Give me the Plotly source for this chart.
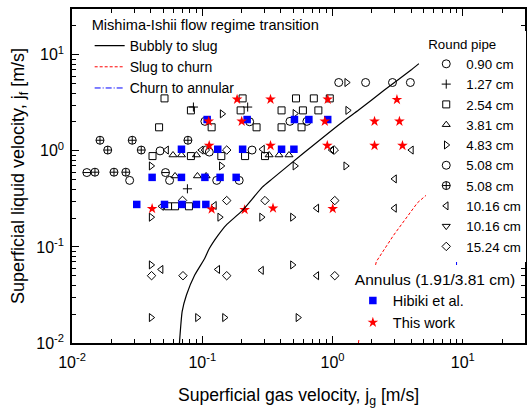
import plotly.graph_objects as go
import math

# ---------------- data ----------------
tick_vals = [0.01, 0.1, 1, 10]
tick_text = ["10<sup>-2</sup>", "10<sup>-1</sup>", "10<sup>0</sup>", "10<sup>1</sup>"]

# Mishima-Ishii transition curves
bs_jg = [0.0668, 0.0701, 0.0756, 0.0875, 0.1043, 0.1132, 0.132, 0.152, 0.2035, 0.289, 0.344, 0.60, 1.218, 1.586, 2.5, 4.05, 4.6]
bs_jf = [0.010, 0.0213, 0.0316, 0.051, 0.0759, 0.0962, 0.132, 0.168, 0.24, 0.419, 0.511, 0.95, 2.05, 2.66, 4.3, 7.03, 8.1]
sc_jg = [1.58, 1.643, 2.17, 2.935, 4.48, 28.9]
sc_jf = [0.010, 0.0146, 0.0706, 0.132, 0.288, 2.58]
ca_jg = [8.95, 8.95]
ca_jf = [0.010, 0.10]

# Round pipe data
d090_jg = [0.0130, 0.0522]
d090_jf = [0.595, 0.595]
d127_jg = [0.0855, 0.223, 0.0769]
d127_jf = [2.86, 2.86, 0.403]
d254_jg = [0.0513, 0.204, 0.524, 0.718, 0.952, 0.0818, 0.197, 0.406, 0.592, 0.778,
           0.0466, 0.118, 0.261, 0.406, 0.578, 0.0415, 0.0818, 0.140, 0.213, 0.303,
           0.0546, 0.0618, 0.0790]
d254_jf = [3.52, 3.52, 3.52, 3.52, 3.52, 2.64, 2.64, 2.64, 2.64, 2.64,
           1.76, 1.76, 1.76, 1.76, 1.76, 0.883, 0.883, 0.883, 0.883, 0.883,
           0.265, 0.265, 0.265]
d381_jg = [0.0596, 0.0692, 0.0902, 0.326, 0.388, 0.463, 0.0618, 0.0918, 0.107]
d381_jf = [0.906, 0.906, 0.906, 0.906, 0.906, 0.906, 0.548, 0.548, 0.548]
d483_jg = [1.284, 0.142, 0.514, 1.306, 0.0405, 0.140, 0.514, 1.262, 0.0405, 0.136,
           0.285, 0.492, 0.0405, 0.492, 0.0405, 0.0918, 0.148, 0.542]
d483_jf = [5.15, 2.43, 2.45, 2.64, 0.697, 0.697, 0.697, 0.697, 0.204, 0.204,
           0.204, 0.204, 0.065, 0.065, 0.0184, 0.0184, 0.0184, 0.0184]
d508_jg = [1.115, 1.793, 2.884, 3.956, 0.1047, 0.231, 0.471, 0.635, 0.0474, 0.1132,
           0.241, 0.0277, 0.0561, 0.129, 0.192]
d508_jf = [5.15, 5.15, 5.15, 5.15, 2.03, 2.01, 2.03, 2.03, 1.0, 0.972,
           1.02, 0.493, 0.493, 0.493, 0.493]
d508b_jg = [0.0164, 0.029, 0.0776, 0.0188, 0.034, 0.0150, 0.0210, 0.0259]
d508b_jf = [1.29, 1.29, 1.29, 1.02, 1.02, 0.60, 0.60, 0.60]
d1016_jg = [0.0532, 0.0984, 0.290, 0.986, 4.03, 2.99, 0.0487, 0.124, 0.757, 2.99,
            0.0483, 0.1315, 0.285, 0.757]
d1016_jf = [1.02, 1.02, 1.04, 1.02, 1.02, 0.511, 0.265, 0.27, 0.253, 0.253,
            0.0583, 0.0583, 0.057, 0.0502]
d1016b_jg = [None]   # legend entry only: no visible points in the reference
d1016b_jf = [None]
d1524_jg = [0.1056, 0.154, 1.03, 0.0705, 0.154, 0.303, 1.04, 0.0408, 0.0711, 0.154, 1.04]
d1524_jf = [1.02, 1.02, 1.02, 0.305, 0.304, 0.304, 0.304, 0.0502, 0.0502, 0.0502, 0.0502]

# Annulus data
hib_jg = [0.109, 0.221, 0.51, 0.658, 0.918, 0.0692, 0.1315, 0.204, 0.406, 0.505,
          0.0412, 0.0692, 0.1047, 0.137, 0.182, 0.0314, 0.0513, 0.0698, 0.0902, 0.1065]
hib_jf = [2.12, 2.12, 2.12, 2.12, 2.12, 1.04, 1.04, 1.04, 1.04, 1.04,
          0.53, 0.53, 0.53, 0.53, 0.53, 0.277, 0.277, 0.277, 0.277, 0.277]
tw_jg = [0.185, 0.334, 0.918, 3.12, 0.112, 0.2007, 0.872, 2.10, 3.26, 0.113,
         0.334, 0.911, 2.10, 3.44, 0.0412, 0.118, 0.2115, 0.349, 1.003]
tw_jf = [3.44, 3.44, 3.44, 3.41, 2.03, 2.03, 2.03, 2.03, 2.03, 1.135,
         1.135, 1.135, 1.135, 1.135, 0.25, 0.247, 0.244, 0.253, 0.25]

FONT = "Liberation Sans, Arial, Helvetica, sans-serif"

fig = go.Figure()

def open_marker(x, y, name, symbol, size, legend="legend2", show=True):
    fig.add_trace(go.Scatter(
        x=x, y=y, mode="markers", name=name, legend=legend, showlegend=show,
        marker=dict(symbol=symbol, size=size, color="black",
                    line=dict(width=1, color="black"))))

open_marker(d090_jg, d090_jf, "0.90 cm", "circle-open", 8)
open_marker(d090_jg, d090_jf, "0.90 cm", "line-ew-open", 5.7, show=False)
open_marker(d127_jg, d127_jf, "1.27 cm", "cross-thin-open", 6.5)
open_marker(d254_jg, d254_jf, "2.54 cm", "square-open", 7)
open_marker(d381_jg, d381_jf, "3.81 cm", "triangle-up-open", 7)
open_marker(d483_jg, d483_jf, "4.83 cm", "triangle-right-open", 7)
open_marker(d508_jg, d508_jf, "5.08 cm", "circle-open", 8)
open_marker(d508b_jg, d508b_jf, "5.08 cm", "circle-cross-open", 8)
open_marker(d1016_jg, d1016_jf, "10.16 cm", "triangle-left-open", 7)
open_marker(d1016b_jg, d1016b_jf, "10.16 cm", "triangle-down-open", 7)
open_marker(d1524_jg, d1524_jf, "15.24 cm", "diamond-open", 6.5)

fig.add_trace(go.Scatter(x=hib_jg, y=hib_jf, mode="markers", name="Hibiki et al.",
                         legend="legend3",
                         marker=dict(symbol="square", size=7.5, color="#0000FF",
                                     line=dict(width=0))))
fig.add_trace(go.Scatter(x=tw_jg, y=tw_jf, mode="markers", name="This work",
                         legend="legend3",
                         marker=dict(symbol="star", size=8, color="#FF0000",
                                     line=dict(width=0))))

fig.add_trace(go.Scatter(x=bs_jg, y=bs_jf, mode="lines", name="Bubbly to slug",
                         legend="legend", line=dict(color="black", width=1.2,
                                                    shape="spline", smoothing=0.5)))
fig.add_trace(go.Scatter(x=sc_jg, y=sc_jf, mode="lines", name="Slug to churn",
                         legend="legend", line=dict(color="#FF0000", width=1,
                                                    dash="3px,2px")))
fig.add_trace(go.Scatter(x=ca_jg, y=ca_jf, mode="lines", name="Churn to annular",
                         legend="legend", line=dict(color="#0000FF", width=1,
                                                    dash="6px,2px,1px,2px")))

minor_vals = [m * 10 ** e for e in range(-2, 2) for m in range(2, 10)]

axis_common = dict(
    type="log", tickmode="array", tickvals=tick_vals, ticktext=tick_text,
    ticks="inside", ticklen=7, tickwidth=1.2, tickcolor="black",
    showline=True, linewidth=1.5, linecolor="black", mirror="ticks",
    showgrid=False, zeroline=False,
    tickfont=dict(family=FONT, size=16, color="black"),
    minor=dict(tickmode="array", tickvals=minor_vals, ticks="inside",
               ticklen=4, tickwidth=1, tickcolor="black", showgrid=False),
)

fig.update_layout(
    width=528, height=408, autosize=False,
    margin=dict(l=72, r=1, t=9, b=63),
    paper_bgcolor="white", plot_bgcolor="white",
    font=dict(family=FONT, color="black"),
    xaxis=dict(axis_common, range=[-2, math.log10(30)], ticklabelstandoff=4,
               title=dict(text="Superficial gas velocity, j<sub>g</sub> [m/s]",
                          font=dict(family=FONT, size=17.6), standoff=24)),
    yaxis=dict(axis_common, range=[-2, math.log10(30)], ticklabelstandoff=3,
               title=dict(text="Superficial liquid velocity, j<sub>f</sub> [m/s]",
                          font=dict(family=FONT, size=18), standoff=7)),
    legend=dict(x=0.039, y=0.994, xanchor="left", yanchor="top",
                bgcolor="rgba(255,255,255,0)", borderwidth=0,
                title=dict(text="Mishima-Ishii flow regime transition",
                           font=dict(family=FONT, size=14.6)),
                font=dict(family=FONT, size=14), itemwidth=30,
                tracegroupgap=0),
    legend2=dict(x=0.782, y=0.933, xanchor="left", yanchor="top",
                 bgcolor="white", borderwidth=0,
                 title=dict(text="Round pipe", font=dict(family=FONT, size=13.3)),
                 font=dict(family=FONT, size=13.3), itemwidth=30,
                 tracegroupgap=0),
    legend3=dict(x=0.62, y=0.235, xanchor="left", yanchor="top",
                 bgcolor="white", borderwidth=0,
                 title=dict(text="Annulus (1.91/3.81 cm)",
                            font=dict(family=FONT, size=15.5)),
                 font=dict(family=FONT, size=14.5), itemwidth=30,
                 tracegroupgap=0),
)

fig.write_html("out.html")
